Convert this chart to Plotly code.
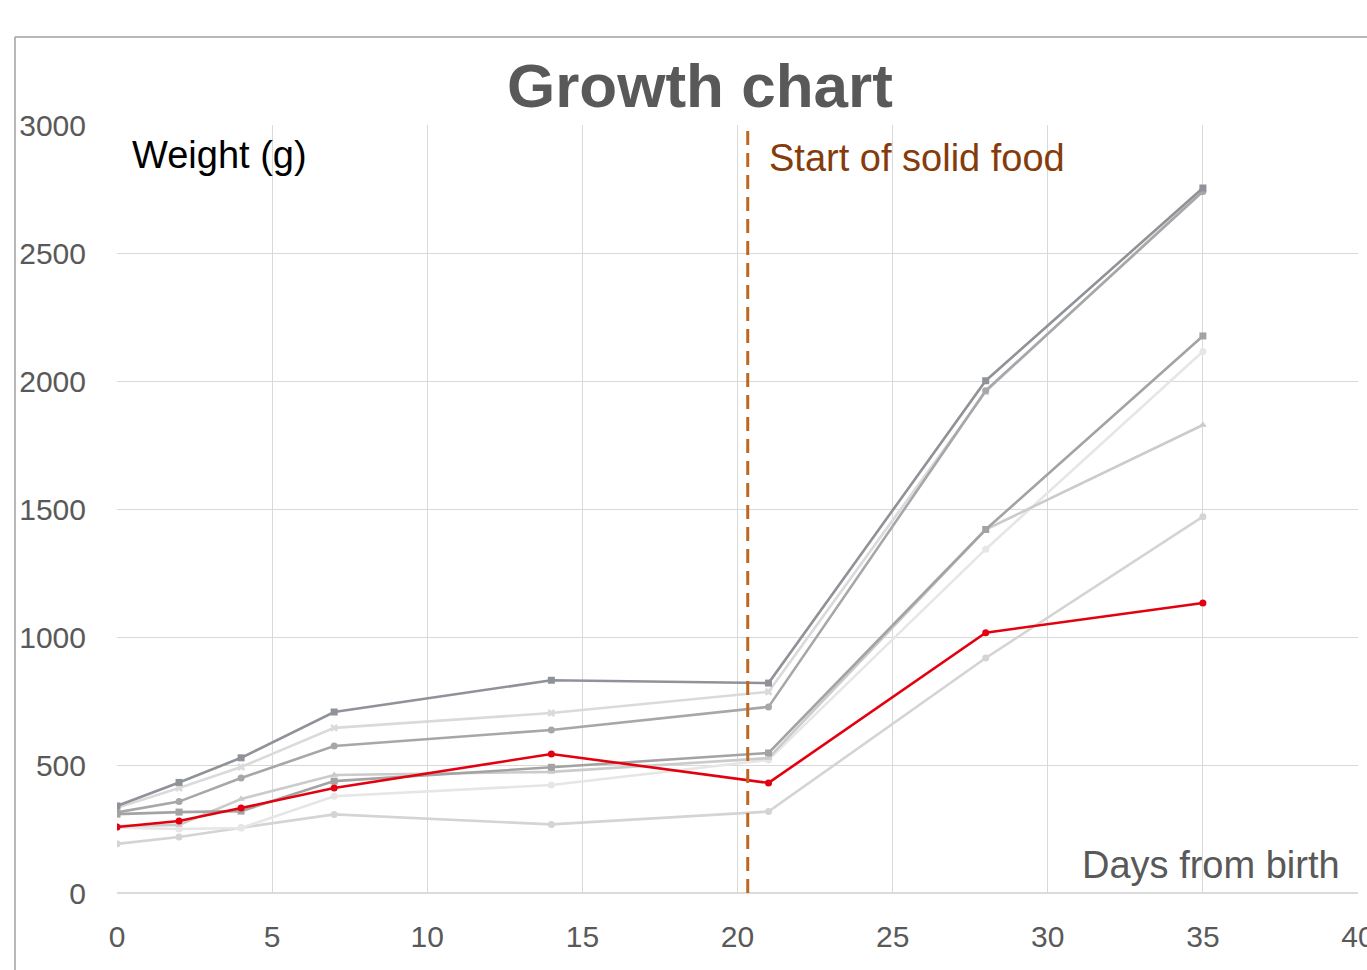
import plotly.graph_objects as go

days = [0, 2, 4, 7, 14, 21, 28, 35]

s1 = [340, 432, 528, 707, 831, 820, 2001, 2754]
s2 = [333, 410, 492, 645, 703, 786, 1958, 2746]
s3 = [315, 357, 449, 574, 637, 727, 1962, 2740]
s4 = [308, 316, 320, 437, 491, 547, 1420, 2176]
s5 = [262, 266, 367, 461, 473, 527, 1420, 1828]
s6 = [255, 250, 254, 378, 422, 520, 1343, 2115]
s7 = [192, 219, 255, 307, 268, 318, 918, 1470]
red = [258, 281, 332, 410, 543, 430, 1017, 1133]

series = [
    (s7, "#d4d4d4", "circle"),
    (s6, "#e6e6e6", "circle"),
    (s5, "#cbcbcb", "triangle-up"),
    (s2, "#dadada", "x"),
    (s3, "#a7a7a7", "circle"),
    (s4, "#a3a3a3", "square"),
    (s1, "#8f9298", "square"),
    (red, "#e3000f", "circle"),
]

solid_food_day = 20.33

fig = go.Figure()
for vals, col, sym in series:
    fig.add_trace(go.Scatter(
        x=days, y=vals, mode="lines+markers",
        line=dict(color=col, width=2.6),
        marker=dict(color=col, size=7, symbol=sym),
        showlegend=False,
    ))

font_main = "Liberation Sans, Arial, sans-serif"

fig.update_layout(
    template="none",
    width=1367, height=970,
    margin=dict(l=117, r=9, t=125, b=77),
    paper_bgcolor="white", plot_bgcolor="white",
    title=dict(text="<b>Growth chart</b>", x=0.512, xanchor="center",
               y=1 - 85 / 970, yanchor="middle", yref="container",
               font=dict(family=font_main, size=62, color="#595959")),
    xaxis=dict(range=[0, 40], dtick=5, tick0=0, showgrid=True,
               gridcolor="#d9d9d9", gridwidth=1, zeroline=False,
               showline=False, ticks="", automargin=False,
               ticklabelstandoff=23, ticklabeloverflow="allow",
               tickfont=dict(family=font_main, size=30, color="#595959")),
    yaxis=dict(range=[0, 3000], dtick=500, tick0=0, showgrid=True,
               gridcolor="#d9d9d9", gridwidth=1, zeroline=False,
               showline=False, ticks="", automargin=False,
               ticklabelstandoff=30, ticklabeloverflow="allow",
               tickfont=dict(family=font_main, size=30, color="#595959")),
)

# outer chart border
fig.add_shape(type="line", xref="paper", yref="paper",
              x0=-0.0822, x1=-0.0822, y0=1.1146, y1=-0.12,
              line=dict(color="#a0a0a0", width=1.5))
fig.add_shape(type="line", xref="paper", yref="paper",
              x0=-0.0822, x1=1.05, y0=1.1146, y1=1.1146,
              line=dict(color="#a0a0a0", width=1.5))

# bottom axis line
fig.add_shape(type="line", xref="paper", yref="paper",
              x0=0, x1=1, y0=0, y1=0,
              line=dict(color="#cfcfcf", width=1.5))

# start of solid food dashed line
fig.add_shape(type="line", xref="x", yref="y",
              x0=solid_food_day, x1=solid_food_day, y0=0, y1=3000,
              line=dict(color="#c0661f", width=3, dash="14px,8px"))

fig.add_annotation(x=0.42, y=2883, xref="x", yref="y", text="Weight (g)",
                   showarrow=False, xanchor="left", yanchor="middle",
                   font=dict(family=font_main, size=38, color="#000000"))
fig.add_annotation(x=20.95, y=2870, xref="x", yref="y", text="Start of solid food",
                   showarrow=False, xanchor="left", yanchor="middle",
                   font=dict(family=font_main, size=38, color="#843c0c"))
fig.add_annotation(x=39.5, y=108, xref="x", yref="y", text="Days from birth",
                   showarrow=False, xanchor="right", yanchor="middle",
                   font=dict(family=font_main, size=38, color="#595959"))

fig.write_html("out.html")
